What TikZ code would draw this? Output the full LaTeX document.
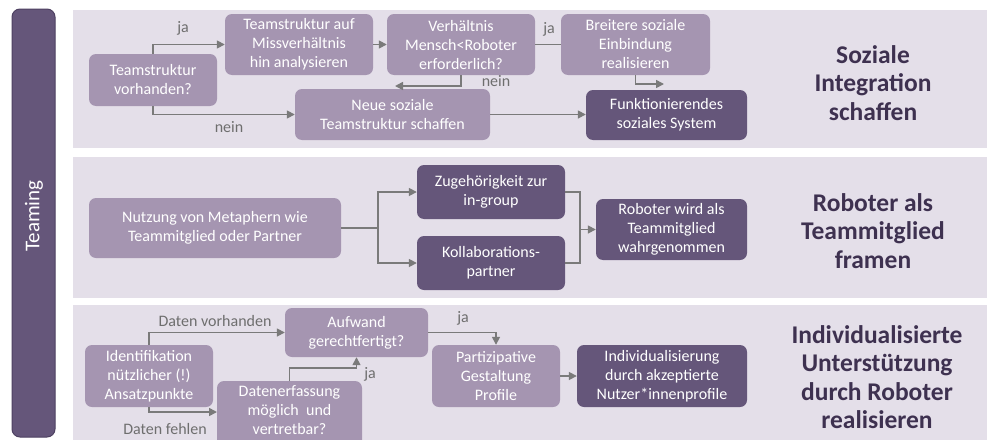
\documentclass[tikz,border=0pt]{standalone}
\usepackage{fontspec}
\setmainfont{Carlito}
\usetikzlibrary{arrows.meta}
\definecolor{panelbg}{HTML}{E4DFE9}
\definecolor{midbox}{HTML}{A595B1}
\definecolor{darkbox}{HTML}{65567A}
\definecolor{darkedge}{HTML}{4E4162}
\definecolor{titlecol}{HTML}{3E3150}
\definecolor{arrcol}{HTML}{7A7A7A}
\definecolor{labcol}{HTML}{6E6E6E}
\begin{document}
\begin{tikzpicture}[x=1pt,y=-1pt,
  panel/.style={fill=panelbg,draw=none},
  boxbase/.style={rounded corners=7pt,text=white,align=center,inner sep=0pt,
    font=\fontsize{16}{19}\selectfont},
  midb/.style={boxbase,fill=midbox},
  darkb/.style={boxbase,fill=darkbox},
  conn/.style={draw=arrcol,line width=1.6pt},
  arr/.style={conn,-{Triangle[length=8pt,width=8pt]}},
  lab/.style={text=labcol,font=\fontsize{16}{19}\selectfont,inner sep=0pt},
  ttl/.style={text=titlecol,align=center,font=\fontsize{25.5}{28.5}\selectfont\bfseries,inner sep=0pt}
]
\clip (0,0) rectangle (987,439);
\fill[white] (0,0) rectangle (987,439);

% left bar
\draw[fill=darkbox,draw=darkedge,line width=1pt,rounded corners=8pt] (12,9) rectangle (55,437);
\node[text=white,rotate=90,font=\fontsize{21}{24}\selectfont,inner sep=0pt] (teaming) at (34,216) {Teaming};

% panels
\fill[panel] (73,10) rectangle (987,148);
\fill[panel] (73,157) rectangle (987,298);
\fill[panel] (73,305) rectangle (987,445);

% ---------- Panel 1 ----------
\node[midb,minimum width=128pt,minimum height=52pt] (vorh) at (153,80) {Teamstruktur\\vorhanden?};
\node[midb,minimum width=148pt,minimum height=61pt] (anal) at (299,44.5) {Teamstruktur auf\\Missverhältnis\\hin analysieren};
\node[midb,minimum width=148pt,minimum height=61pt] (verh) at (461,44.5) {Verhältnis\\Mensch<Roboter\\erforderlich?};
\node[midb,minimum width=149pt,minimum height=61pt] (breit) at (635.5,44.5) {Breitere soziale\\Einbindung\\realisieren};
\node[midb,minimum width=195pt,minimum height=51pt] (neue) at (392.5,114.5) {Neue soziale\\Teamstruktur schaffen};
\node[darkb,minimum width=161pt,minimum height=50pt] (funk) at (666.5,115) {Funktionierendes\\soziales System};
\node[ttl] (t1) at (873,83) {Soziale\\Integration\\schaffen};

\coordinate (c1) at (395,86);
\coordinate (c2) at (664,84);
\draw[arr] (vorh.north) |- (anal.west);
\draw[arr] (anal.east) -- (verh.west);
\draw[conn] (verh.east) -- (breit.west);
\draw[arr] (verh.south) |- (c1);
\draw[arr] (vorh.south) |- (neue.west);
\draw[arr] (neue.east) -- (funk.west |- neue.east);
\draw[arr] (breit.south) |- (c2);
\node[lab] (lja1) at (183,28) {ja};
\node[lab] (lja2) at (549,29) {ja};
\node[lab] (lnein1) at (496,81) {nein};
\node[lab] (lnein2) at (229,127) {nein};

% ---------- Panel 2 ----------
\node[midb,minimum width=252pt,minimum height=60pt] (nutz) at (215,228) {Nutzung von Metaphern wie\\Teammitglied oder Partner};
\node[darkb,minimum width=148pt,minimum height=54pt] (zug) at (491,192) {Zugehörigkeit zur\\in-group};
\node[darkb,minimum width=148pt,minimum height=54pt] (koll) at (491,263) {Kollaborations-\\partner};
\node[darkb,minimum width=151pt,minimum height=61pt] (rob) at (671.5,229.5) {Roboter wird als\\Teammitglied\\wahrgenommen};
\node[ttl] (t2) at (873,231) {Roboter als\\Teammitglied\\framen};

\coordinate (j1) at (378,228);
\coordinate (j2) at (580,229.5);
\draw[conn] (nutz.east) -- (j1);
\draw[arr] (j1) |- (zug.west);
\draw[arr] (j1) |- (koll.west);
\draw[conn] (zug.east) -| (j2);
\draw[conn] (koll.east) -| (j2);
\draw[arr] (j2) -- (rob.west);

% ---------- Panel 3 ----------
\node[midb,minimum width=128pt,minimum height=62pt] (ident) at (149,376) {Identifikation\\nützlicher (!)\\Ansatzpunkte};
\node[midb,minimum width=143pt,minimum height=49pt] (aufw) at (356.5,332.5) {Aufwand\\gerechtfertigt?};
\fill[midbox,rounded corners=7pt] (217,381) rectangle (362,450);
\node[boxbase,minimum width=145pt] (daten) at (289.5,410) {Datenerfassung\\möglich~ und\\vertretbar?};
\node[midb,minimum width=128pt,minimum height=62pt] (part) at (496,376) {Partizipative\\Gestaltung\\Profile};
\node[darkb,minimum width=170pt,minimum height=62pt] (indiv) at (662,376) {Individualisierung\\durch akzeptierte\\Nutzer*innenprofile};
\node[ttl] (t3) at (877,377) {Individualisierte\\Unterstützung\\durch Roboter\\realisieren};

\coordinate (d1) at (356.5,368);
\coordinate (d0) at (289.5,381);
\coordinate (dw) at (217,412);
\draw[arr] (ident.north) |- (aufw.west);
\draw[arr] (ident.south) |- (dw);
\draw[arr] (d0) |- (d1) -- (aufw.south);
\draw[arr] (aufw.east) -| (part.north);
\draw[arr] (part.east) -- (indiv.west);
\node[lab] (lvor) at (215,321) {Daten vorhanden};
\node[lab] (lfeh) at (165,429) {Daten fehlen};
\node[lab] (lja3) at (370,374) {ja};
\node[lab] (lja4) at (463,318) {ja};
\end{tikzpicture}
\end{document}
